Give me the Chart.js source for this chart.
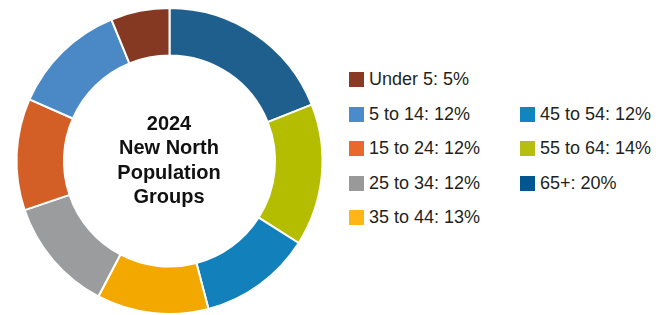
<!DOCTYPE html>
<html>
<head>
<meta charset="utf-8">
<script src="https://cdn.jsdelivr.net/npm/chart.js@4"></script>
<style>
  html, body { margin: 0; padding: 0; background: #fff; }
  #wrap { position: relative; width: 668px; height: 315px; overflow: hidden; }
  #chartBox { position: absolute; left: 0; top: 0; width: 340px; height: 315px; }
  .item { position: absolute; height: 16px; font-family: "Liberation Sans", Arial, sans-serif; font-size: 18px; color: #231f20; white-space: nowrap; }
  .sw { position: absolute; left: 0; top: 0; width: 15px; height: 15px; }
  .lbl { position: absolute; left: 20px; top: -3px; line-height: 20px; }
</style>
</head>
<body>
<div id="wrap">
  <div id="chartBox"><canvas id="c" width="340" height="315"></canvas></div>
  <div id="legend"></div>
</div>
<script>
// Data (clockwise from 12 o'clock)
const categories = ["65+", "55 to 64", "45 to 54", "35 to 44", "25 to 34", "15 to 24", "5 to 14", "Under 5"];
// Slice sizes as drawn in the picture (measured from slice angles)
const sliceShares = [19.0, 15.0, 11.9, 11.8, 12.1, 11.8, 12.2, 6.2];
// Percentages as printed in the legend
const legendPercents = [20, 14, 12, 13, 12, 12, 12, 5];
const sliceColors = ["#1f5f8e", "#b5bd00", "#1180bb", "#f3a800", "#9b9c9e", "#d35f27", "#4a89c6", "#853922"];
const legendColors = ["#00578f", "#b6bf0f", "#0f86c1", "#fdb614", "#999999", "#e9682b", "#4a8ccb", "#8a3a22"];
const centerLines = ["2024", "New North", "Population", "Groups"];

// Legend order (column 1 then column 2)
const legendOrder = ["Under 5", "5 to 14", "15 to 24", "25 to 34", "35 to 44", "45 to 54", "55 to 64", "65+"];

const legend = document.getElementById('legend');
legendOrder.forEach((name, k) => {
  const i = categories.indexOf(name);
  let col, row;
  if (k < 5) { col = 0; row = k; } else { col = 1; row = k - 4; }
  const left = col === 0 ? 349 : 520;
  const top = 72 + row * 34.5;
  const div = document.createElement('div');
  div.className = 'item';
  div.style.left = left + 'px';
  div.style.top = top + 'px';
  div.innerHTML = '<span class="sw" style="background:' + legendColors[i] + '"></span><span class="lbl">' + name + ': ' + legendPercents[i] + '%</span>';
  legend.appendChild(div);
});

const centerText = {
  id: 'centerText',
  afterDraw(chart) {
    const ctx = chart.ctx;
    const meta = chart.getDatasetMeta(0);
    const arc = meta.data[0];
    const cx = arc.x, cy = arc.y;
    ctx.save();
    ctx.fillStyle = '#111';
    ctx.font = 'bold 20px "Liberation Sans", Arial, sans-serif';
    ctx.textAlign = 'center';
    ctx.textBaseline = 'alphabetic';
    centerLines.forEach((t, j) => {
      ctx.fillText(t, cx - 0.5, cy - 31 + j * 24.3);
    });
    ctx.restore();
  }
};

new Chart(document.getElementById('c'), {
  type: 'doughnut',
  data: {
    labels: categories,
    datasets: [{
      data: sliceShares,
      backgroundColor: sliceColors,
      borderColor: '#ffffff',
      borderWidth: 2,
      hoverOffset: 0
    }]
  },
  options: {
    responsive: false,
    animation: false,
    cutout: '69%',
    rotation: 0,
    layout: { padding: { left: 15.5, right: 16.5, top: 7, bottom: 0 } },
    plugins: {
      legend: { display: false },
      tooltip: { enabled: false }
    }
  },
  plugins: [centerText]
});
</script>
</body>
</html>
